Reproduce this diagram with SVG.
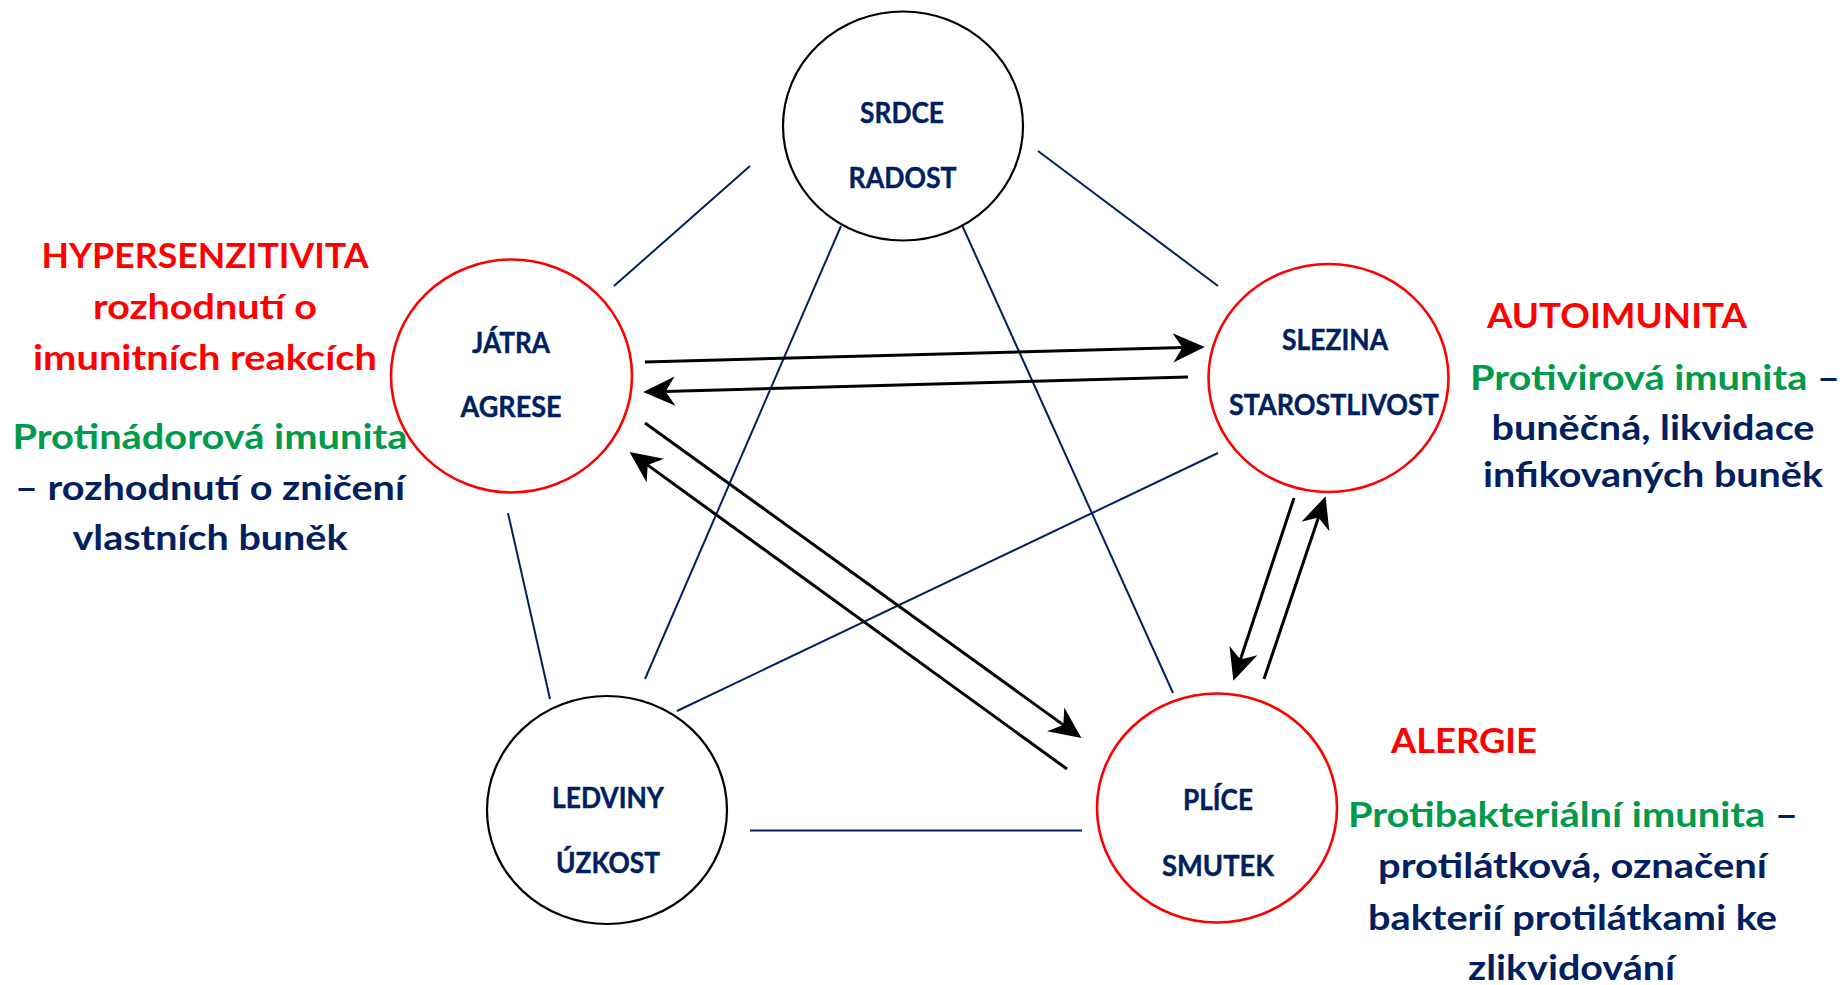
<svg xmlns="http://www.w3.org/2000/svg" width="1845" height="985" viewBox="0 0 1845 985">
<defs>
<style>
.nc{fill:#fff;stroke:#000;stroke-width:2.2}
.nr{fill:#fff;stroke:#ff0000;stroke-width:2.6}
.nt{font-family:Lato,"Open Sans","Liberation Sans",sans-serif;font-weight:bold;font-size:28px;fill:#002060;text-anchor:middle;stroke:#002060;stroke-width:0.4}
.st{font-family:Lato,"Open Sans","Liberation Sans",sans-serif;font-weight:bold;font-size:35px;text-anchor:middle}
.red{fill:#ff0000}
.grn{fill:#009a4a}
.nav{fill:#002060}
.ln{stroke:#002060;stroke-width:2;fill:none}
.ar{stroke:#000;stroke-width:3;fill:none;marker-end:url(#ah)}
</style>
<marker id="ah" markerUnits="userSpaceOnUse" markerWidth="40" markerHeight="40" viewBox="-30 -16 34 32" refX="-10" refY="0" orient="auto">
<path d="M0,0 L-27,-12.5 L-19,0 L-27,12.5 Z" fill="#000"/>
</marker>
</defs>
<rect width="1845" height="985" fill="#fff"/>

<g id="connectors">
<line class="ln" x1="750" y1="166" x2="614" y2="286"/>
<line class="ln" x1="1038" y1="151" x2="1218" y2="286"/>
<line class="ln" x1="841" y1="226" x2="645" y2="679"/>
<line class="ln" x1="962" y1="225" x2="1173" y2="693"/>
<line class="ln" x1="508" y1="513" x2="550" y2="699"/>
<line class="ln" x1="1218" y1="453" x2="677" y2="711"/>
<line class="ln" x1="750" y1="830.5" x2="1082" y2="830.5"/>
<line class="ar" x1="645" y1="362" x2="1193" y2="347.3"/>
<line class="ar" x1="1188" y1="377" x2="655" y2="391.7"/>
<line class="ar" x1="645" y1="423" x2="1071.9" y2="731.1"/>
<line class="ar" x1="1067" y1="769" x2="639.1" y2="458.9"/>
<line class="ar" x1="1294" y1="498" x2="1237.1" y2="669.5"/>
<line class="ar" x1="1264" y1="679" x2="1321.8" y2="507.5"/>
</g>

<g id="srdce">
<ellipse class="nc" cx="903" cy="126" rx="120" ry="114.5"/>
<text class="nt" x="902" y="123" textLength="84" lengthAdjust="spacingAndGlyphs">SRDCE</text>
<text class="nt" x="902.5" y="188" textLength="108" lengthAdjust="spacingAndGlyphs">RADOST</text>
</g>

<g id="jatra">
<ellipse class="nr" cx="511.5" cy="376" rx="120.5" ry="116.5"/>
<text class="nt" x="511" y="353" textLength="78" lengthAdjust="spacingAndGlyphs">JÁTRA</text>
<text class="nt" x="511" y="417" textLength="101" lengthAdjust="spacingAndGlyphs">AGRESE</text>
</g>

<g id="slezina">
<ellipse class="nr" cx="1328.5" cy="378" rx="120" ry="114"/>
<text class="nt" x="1335" y="350" textLength="106" lengthAdjust="spacingAndGlyphs">SLEZINA</text>
<text class="nt" x="1334" y="415" textLength="210" lengthAdjust="spacingAndGlyphs">STAROSTLIVOST</text>
</g>

<g id="ledviny">
<ellipse class="nc" cx="607" cy="810" rx="120" ry="114"/>
<text class="nt" x="608" y="808" textLength="112" lengthAdjust="spacingAndGlyphs">LEDVINY</text>
<text class="nt" x="608" y="873" textLength="104" lengthAdjust="spacingAndGlyphs">ÚZKOST</text>
</g>

<g id="plice">
<ellipse class="nr" cx="1217" cy="808" rx="120" ry="114.5"/>
<text class="nt" x="1218" y="810" textLength="70" lengthAdjust="spacingAndGlyphs">PLÍCE</text>
<text class="nt" x="1218" y="876" textLength="112" lengthAdjust="spacingAndGlyphs">SMUTEK</text>
</g>

<g id="label-hypersenzitivita">
<text class="st red" x="205" y="268" textLength="327" lengthAdjust="spacingAndGlyphs">HYPERSENZITIVITA</text>
<text class="st red" x="205" y="319" textLength="224" lengthAdjust="spacingAndGlyphs">rozhodnutí o</text>
<text class="st red" x="205" y="370" textLength="344" lengthAdjust="spacingAndGlyphs">imunitních reakcích</text>
<text class="st grn" x="210" y="449" textLength="395" lengthAdjust="spacingAndGlyphs">Protinádorová imunita</text>
<text class="st nav" x="210" y="500" textLength="390" lengthAdjust="spacingAndGlyphs">– rozhodnutí o zničení</text>
<text class="st nav" x="210" y="550" textLength="275" lengthAdjust="spacingAndGlyphs">vlastních buněk</text>
</g>

<g id="label-autoimunita">
<text class="st red" x="1617" y="328" textLength="260" lengthAdjust="spacingAndGlyphs">AUTOIMUNITA</text>
<text class="st" x="1655" y="390" textLength="370" lengthAdjust="spacingAndGlyphs"><tspan class="grn">Protivirová imunita</tspan><tspan class="nav"> –</tspan></text>
<text class="st nav" x="1653" y="440" textLength="323" lengthAdjust="spacingAndGlyphs">buněčná, likvidace</text>
<text class="st nav" x="1653" y="487" textLength="340" lengthAdjust="spacingAndGlyphs">infikovaných buněk</text>
</g>

<g id="label-alergie">
<text class="st red" x="1464" y="752.5" textLength="146" lengthAdjust="spacingAndGlyphs">ALERGIE</text>
<text class="st" x="1573" y="826.5" textLength="450" lengthAdjust="spacingAndGlyphs"><tspan class="grn">Protibakteriální imunita</tspan><tspan class="nav"> –</tspan></text>
<text class="st nav" x="1572.5" y="878" textLength="389" lengthAdjust="spacingAndGlyphs">protilátková, označení</text>
<text class="st nav" x="1572.5" y="930" textLength="409" lengthAdjust="spacingAndGlyphs">bakterií protilátkami ke</text>
<text class="st nav" x="1571.5" y="980" textLength="207" lengthAdjust="spacingAndGlyphs">zlikvidování</text>
</g>
</svg>
